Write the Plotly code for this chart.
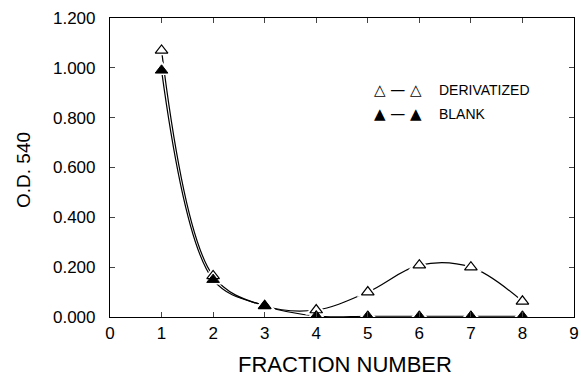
import plotly.graph_objects as go

fractions = [1, 2, 3, 4, 5, 6, 7, 8]
derivatized = [1.07, 0.165, 0.045, 0.028, 0.100, 0.208, 0.200, 0.063]
blank = [0.99, 0.150, 0.045, 0.004, 0.003, 0.003, 0.003, 0.003]

x_ticks = [0, 1, 2, 3, 4, 5, 6, 7, 8, 9]
y_ticks = [0.0, 0.2, 0.4, 0.6, 0.8, 1.0, 1.2]
y_tick_labels = ["0.000", "0.200", "0.400", "0.600", "0.800", "1.000", "1.200"]

FONT = "Liberation Sans, Arial, sans-serif"
W, H = 581, 377
ML, MR, MT, MB = 110, 7, 18, 60
PW, PH = W - ML - MR, H - MT - MB


def px_x(p):
    return (p - ML) / PW


def px_y(p):
    return (H - MB - p) / PH


fig = go.Figure()

for ys in (derivatized, blank):
    fig.add_trace(go.Scatter(x=fractions, y=ys, mode="lines",
                             line=dict(color="black", width=1.2, shape="spline", smoothing=1.0),
                             showlegend=False, hoverinfo="skip"))
for ys in (derivatized, blank):
    fig.add_trace(go.Scatter(x=fractions, y=ys, mode="markers",
                             marker=dict(symbol="triangle-up", size=19, color="white",
                                         line=dict(width=0)),
                             showlegend=False, hoverinfo="skip"))

fig.add_trace(go.Scatter(x=fractions, y=derivatized, mode="markers", name="DERIVATIZED",
                         marker=dict(symbol="triangle-up", size=11, color="white",
                                     line=dict(color="black", width=1.2)),
                         showlegend=False))
fig.add_trace(go.Scatter(x=fractions, y=blank, mode="markers", name="BLANK",
                         marker=dict(symbol="triangle-up", size=11, color="black",
                                     line=dict(color="black", width=1)),
                         showlegend=False))

# custom legend text
for sym, label, ypx in (("\u25b3 \u2014 \u25b3", "DERIVATIZED", 90),
                        ("\u25b2 \u2014 \u25b2", "BLANK", 114)):
    fig.add_annotation(x=px_x(372), y=px_y(ypx), xref="paper", yref="paper",
                       xanchor="left", yanchor="middle", text=sym, showarrow=False,
                       font=dict(family="DejaVu Sans", size=15, color="black"))
    fig.add_annotation(x=px_x(437), y=px_y(ypx), xref="paper", yref="paper",
                       xanchor="left", yanchor="middle", text=label, showarrow=False,
                       font=dict(family=FONT, size=14, color="black"))

# axis titles
fig.add_annotation(x=px_x(345), y=px_y(364), xref="paper", yref="paper",
                   xanchor="center", yanchor="middle", text="FRACTION NUMBER",
                   showarrow=False, font=dict(family=FONT, size=22, color="black"))
fig.add_annotation(x=px_x(23), y=px_y(170), xref="paper", yref="paper",
                   xanchor="center", yanchor="middle", text="O.D. 540", textangle=-90,
                   showarrow=False, font=dict(family=FONT, size=19, color="black"))

fig.update_layout(
    width=W, height=H,
    margin=dict(l=ML, r=MR, t=MT, b=MB),
    paper_bgcolor="white", plot_bgcolor="white",
    font=dict(family=FONT, size=17, color="black"),
    xaxis=dict(range=[0, 9], tickvals=x_ticks, ticks="inside", ticklen=5,
               showline=True, linecolor="black", linewidth=1.2, mirror="ticks",
               showgrid=False, zeroline=False, automargin=False,
               tickfont=dict(size=17)),
    yaxis=dict(range=[0, 1.2], tickvals=y_ticks, ticktext=y_tick_labels,
               ticks="inside", ticklen=5, ticklabelstandoff=10,
               showline=True, linecolor="black", linewidth=1.2, mirror="ticks",
               showgrid=False, zeroline=False, automargin=False,
               tickfont=dict(size=17)),
)

fig.write_html("out.html", config={"displayModeBar": False},
               post_script="document.body.style.margin='0';document.body.style.overflow='hidden';")
